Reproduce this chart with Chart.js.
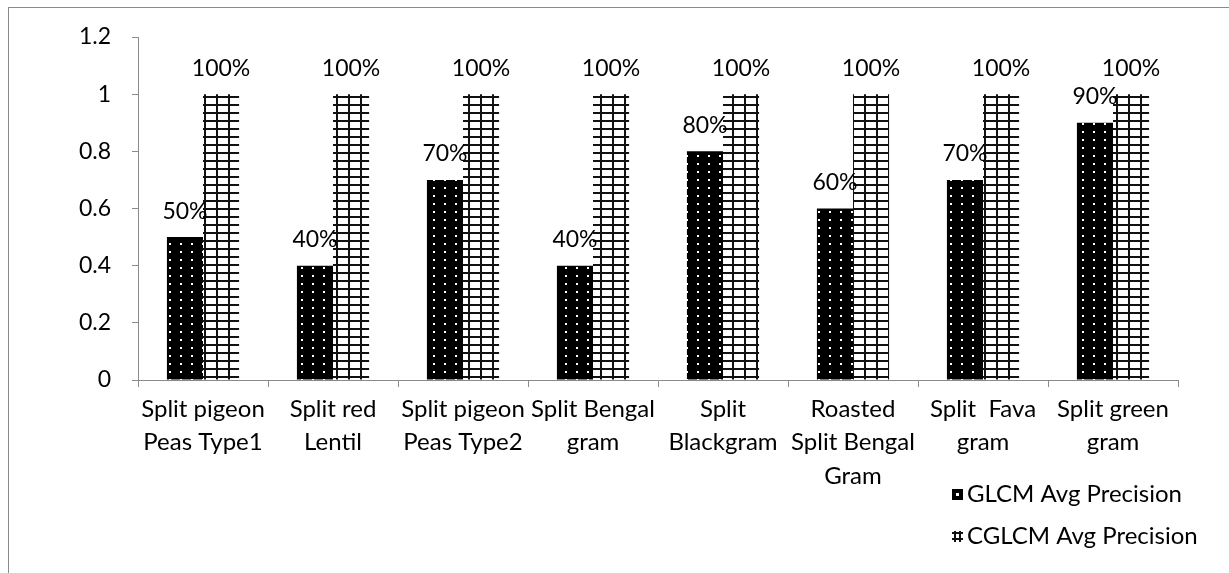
<!DOCTYPE html>
<html>
<head>
<meta charset="utf-8">
<script src="https://cdn.jsdelivr.net/npm/chart.js@4.4.0/dist/chart.umd.min.js"></script>
<style>
html,body{margin:0;padding:0;background:#fff;overflow:hidden;}
#wrap{position:relative;width:1229px;height:573px;}
#frame{position:absolute;left:8px;top:7px;width:1400px;height:800px;border:1px solid #8a8a8a;box-sizing:border-box;}
canvas{position:absolute;left:0;top:0;}
</style>
</head>
<body>
<div id="wrap"><div id="frame"></div><canvas id="c" width="1229" height="573"></canvas></div>
<script>
const categories = [
  ["Split pigeon","Peas Type1"],
  ["Split red","Lentil"],
  ["Split pigeon","Peas Type2"],
  ["Split Bengal","gram"],
  ["Split","Blackgram"],
  ["Roasted","Split Bengal","Gram"],
  ["Split  Fava","gram"],
  ["Split green","gram"]
];
const glcmValues = [0.5, 0.4, 0.7, 0.4, 0.8, 0.6, 0.7, 0.9];
const cglcmValues = [1, 1, 1, 1, 1, 1, 1, 1];
const seriesNames = ["GLCM Avg Precision", "CGLCM Avg Precision"];
const yTicks = [0, 0.2, 0.4, 0.6, 0.8, 1, 1.2];

const FONT = "Lato, 'Open Sans', sans-serif";
const AXIS = "#8a8a8a";

function dotPattern(){
  const c = document.createElement('canvas'); c.width = 11; c.height = 8;
  const x = c.getContext('2d');
  x.fillStyle = '#000'; x.fillRect(0,0,11,8);
  x.fillStyle = '#fff'; x.fillRect(4,3,2,2);
  return c;
}
function gridPattern(){
  const c = document.createElement('canvas'); c.width = 12; c.height = 8;
  const x = c.getContext('2d');
  x.fillStyle = '#fff'; x.fillRect(0,0,12,8);
  x.fillStyle = '#111';
  x.fillRect(0,0,2,8);
  x.fillRect(0,0,12,2);
  return c;
}
const ctx = document.getElementById('c').getContext('2d');
const pDots = ctx.createPattern(dotPattern(), 'repeat');
const pGrid = ctx.createPattern(gridPattern(), 'repeat');

const labelPlugin = {
  id: 'vals',
  afterDatasetsDraw(chart){
    const c = chart.ctx;
    c.save();
    c.font = "23px " + FONT;
    c.fillStyle = '#000';
    c.textAlign = 'center';
    c.textBaseline = 'middle';
    chart.data.datasets.forEach((ds, i) => {
      chart.getDatasetMeta(i).data.forEach((bar, j) => {
        const v = ds.data[j];
        c.fillText(Math.round(v*100) + '%', bar.x, bar.y - 26);
      });
    });
    c.restore();
  }
};
const legendPlugin = {
  id: 'customLegend',
  afterDraw(chart){
    const c = chart.ctx;
    c.save();
    c.font = "24px " + FONT;
    c.fillStyle = '#000';
    c.textBaseline = 'middle';
    const items = [{y:494, fill:'dots'},{y:536, fill:'grid'}];
    items.forEach((it, i) => {
      const x0 = 952, s = 11, y0 = it.y - 5;
      if (it.fill === 'dots'){
        c.fillStyle = '#000'; c.fillRect(x0, y0, s, s);
        c.fillStyle = '#fff'; c.fillRect(x0+4, y0+4, 3, 3);
      } else {
        c.fillStyle = '#fff'; c.fillRect(x0, y0, s, s);
        c.fillStyle = '#111';
        c.fillRect(x0, y0+1, s, 2);
        c.fillRect(x0, y0+7, s, 2);
        c.fillRect(x0+2, y0, 2, s);
        c.fillRect(x0+7, y0, 2, s);
      }
      c.fillStyle = '#000';
      c.fillText(seriesNames[i], x0 + 15, it.y);
    });
    c.restore();
  }
};

new Chart(ctx, {
  type: 'bar',
  data: {
    labels: categories,
    datasets: [
      { label: seriesNames[0], data: glcmValues, backgroundColor: pDots, borderWidth: 0 },
      { label: seriesNames[1], data: cglcmValues, backgroundColor: pGrid, borderWidth: 0 }
    ]
  },
  options: {
    responsive: false,
    animation: false,
    events: [],
    layout: { padding: { left: 0, top: 37, right: 51, bottom: 0 } },
    datasets: { bar: { categoryPercentage: 0.555, barPercentage: 1.0 } },
    plugins: { legend: { display: false }, tooltip: { enabled: false } },
    scales: {
      x: {
        grid: { drawOnChartArea: false, color: AXIS, tickLength: 7, offset: true },
        border: { color: AXIS, width: 1 },
        ticks: { color: '#000', font: { family: FONT, size: 24, lineHeight: 1.38 }, padding: 6, maxRotation: 0, autoSkip: false },
        afterFit(s){ s.height = 193; }
      },
      y: {
        min: 0, max: 1.2,
        afterBuildTicks(s){ s.ticks = yTicks.map(v => ({value: v})); },
        grid: { drawOnChartArea: false, color: AXIS, tickLength: 6 },
        border: { color: AXIS, width: 1 },
        ticks: { color: '#000', font: { family: FONT, size: 23 }, padding: 21, callback: v => String(v) },
        afterFit(s){ s.width = 138; }
      }
    }
  },
  plugins: [labelPlugin, legendPlugin]
});
</script>
</body>
</html>
